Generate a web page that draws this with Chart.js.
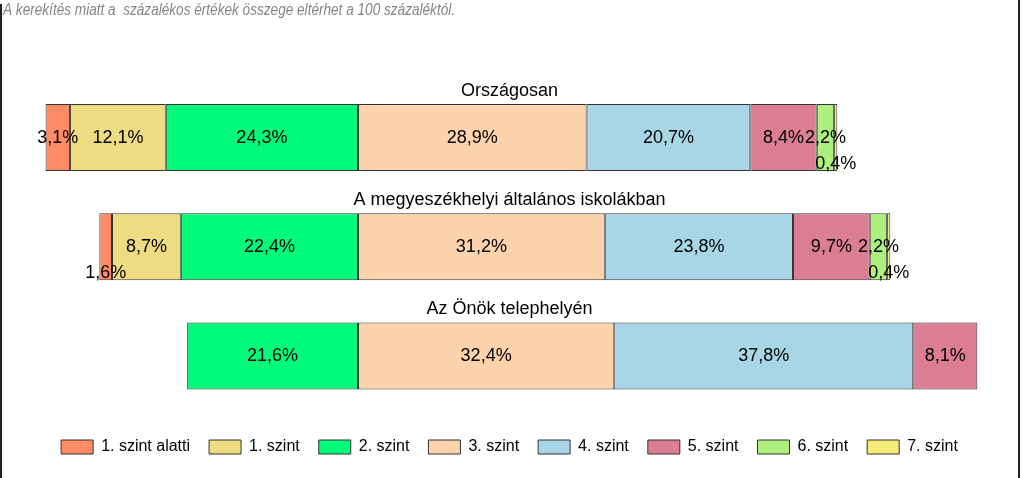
<!DOCTYPE html>
<html>
<head>
<meta charset="utf-8">
<script src="https://cdn.jsdelivr.net/npm/chart.js@4/dist/chart.umd.min.js"></script>
<style>
  html, body { margin: 0; padding: 0; background: #fff; }
</style>
</head>
<body>
<canvas id="chart" width="1024" height="478"></canvas>
<script>
// categories (one bar each) and levels (one dataset each)
const categories = ['Országosan', 'A megyeszékhelyi általános iskolákban', 'Az Önök telephelyén'];
const levelNames = ['1. szint alatti', '1. szint', '2. szint', '3. szint', '4. szint', '5. szint', '6. szint', '7. szint'];
const note = 'A kerekítés miatt a  százalékos értékek összege eltérhet a 100 százaléktól.';

// percentages per category, null = no value
const belowLevel1 = [3.1, 1.6, null];
const level1 = [12.1, 8.7, null];
const level2 = [24.3, 22.4, 21.6];
const level3 = [28.9, 31.2, 32.4];
const level4 = [20.7, 23.8, 37.8];
const level5 = [8.4, 9.7, 8.1];
const level6 = [2.2, 2.2, null];
const level7 = [0.4, 0.4, null];

const levelValues = [belowLevel1, level1, level2, level3, level4, level5, level6, level7];
const levelColors = ['#FF8C66', '#EEDC82', '#00FA7A', '#FDD3AE', '#A8D6E6', '#DB7D93', '#ADF07D', '#F5EB78'];

// levels below 3. szint go to the left of zero
const datasets = levelValues.map((vals, i) => ({
    label: levelNames[i],
    data: vals.map(v => v === null ? null : (i < 3 ? -v : v)),
    backgroundColor: levelColors[i],
    borderColor: '#333',
    borderWidth: 1,
    borderSkipped: false,
    order: i < 3 ? 2 - i : i
}));

const fmt = v => Math.abs(v).toFixed(1).replace('.', ',') + '%';

const barLabels = {
    id: 'barLabels',
    afterDatasetsDraw(chart) {
        const ctx = chart.ctx;
        ctx.save();
        ctx.fillStyle = '#000';
        ctx.textAlign = 'center';
        ctx.textBaseline = 'middle';
        ctx.font = '18px "Liberation Sans", Arial, sans-serif';
        chart.data.datasets.forEach((ds, di) => {
            const meta = chart.getDatasetMeta(di);
            meta.data.forEach((bar, i) => {
                const v = ds.data[i];
                if (v === null || v === undefined) return;
                const x = (bar.x + bar.base) / 2;
                // tiny segments get their label under the bar
                const y = Math.abs(v) < 2 ? bar.y + 26 : bar.y;
                ctx.fillText(fmt(v), x, y);
            });
        });
        // group titles above each bar
        const area = chart.chartArea;
        const yScale = chart.scales.y;
        ctx.font = '18px "Liberation Sans", Arial, sans-serif';
        categories.forEach((c, i) => {
            ctx.fillText(c, (area.left + area.right) / 2, yScale.getPixelForValue(i) - 47);
        });
        ctx.restore();
    }
};

// narrow italic note top left + frame lines
const frame = {
    id: 'frame',
    afterDraw(chart) {
        const ctx = chart.ctx;
        ctx.save();
        ctx.fillStyle = '#858585';
        ctx.textBaseline = 'middle';
        ctx.font = 'italic 17px "Liberation Sans", Arial, sans-serif';
        ctx.translate(3, 10);
        ctx.scale(0.8, 1);
        ctx.fillText(note, 0, 0);
        ctx.restore();

        ctx.save();
        ctx.strokeStyle = '#222';
        ctx.lineWidth = 2;
        ctx.beginPath();
        ctx.moveTo(1, 4); ctx.lineTo(1, 478);
        ctx.moveTo(1019, 0); ctx.lineTo(1019, 478);
        ctx.stroke();
        ctx.restore();
    }
};

new Chart(document.getElementById('chart'), {
    type: 'bar',
    data: { labels: categories, datasets: datasets },
    plugins: [barLabels, frame],
    options: {
        indexAxis: 'y',
        responsive: false,
        animation: false,
        categoryPercentage: 0.614,
        barPercentage: 1,
        layout: { padding: { left: 3, right: 8, top: 83, bottom: 13 } },
        plugins: {
            legend: {
                position: 'bottom',
                labels: {
                    boxWidth: 32,
                    boxHeight: 14,
                    padding: 19,
                    color: '#000',
                    font: { family: '"Liberation Sans", Arial, sans-serif', size: 16 },
                    sort: (a, b) => a.datasetIndex - b.datasetIndex
                }
            },
            tooltip: { enabled: false }
        },
        scales: {
            x: {
                stacked: true,
                min: -44.88,
                max: 83.19,
                grid: { display: false },
                border: { display: false },
                ticks: { display: false },
                afterFit: s => { s.height = 9.5; }
            },
            y: {
                stacked: true,
                display: false
            }
        }
    }
});
</script>
</body>
</html>
